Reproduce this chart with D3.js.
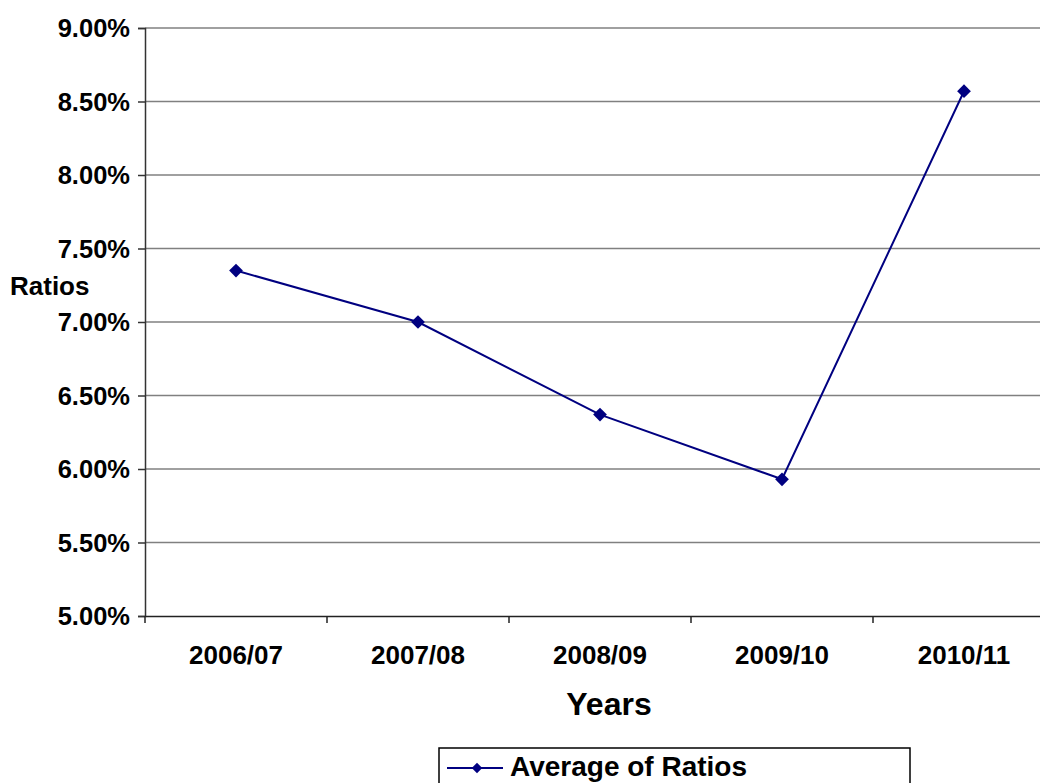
<!DOCTYPE html>
<html>
<head>
<meta charset="utf-8">
<script src="https://cdn.jsdelivr.net/npm/d3@7"></script>
<style>
  html, body { margin: 0; padding: 0; background: #fff; overflow: hidden; }
  svg text { font-family: "Liberation Sans", Arial, sans-serif; font-weight: bold; fill: #000; }
</style>
</head>
<body>
<svg id="chart" width="1040" height="783"></svg>
<script>
// Average ratio per financial year
const years = ["2006/07", "2007/08", "2008/09", "2009/10", "2010/11"];
const ratios = [0.0735, 0.0700, 0.0637, 0.0593, 0.0857];
const yTicks = [0.05, 0.055, 0.06, 0.065, 0.07, 0.075, 0.08, 0.085, 0.09];
const seriesName = "Average of Ratios";

const svg = d3.select("#chart");
const plot = { left: 145, right: 1055, top: 28, bottom: 616 };
const lineColor = "#000080";

const x = d3.scaleBand().domain(years).range([plot.left, plot.right]);
const y = d3.scaleLinear().domain([0.05, 0.09]).range([plot.bottom, plot.top]);

// Horizontal gridlines
svg.append("g")
  .selectAll("line")
  .data(yTicks.slice(1))
  .join("line")
  .attr("x1", plot.left).attr("x2", plot.right)
  .attr("y1", d => y(d)).attr("y2", d => y(d))
  .attr("stroke", "#808080").attr("stroke-width", 1.5);

// Value axis
const yAxis = svg.append("g")
  .attr("transform", `translate(${plot.left},0)`)
  .call(d3.axisLeft(y).tickValues(yTicks).tickFormat(d3.format(".2%")).tickSize(7).tickPadding(8));
yAxis.attr("font-family", null).attr("font-size", null);
yAxis.select(".domain").attr("stroke", "#333").attr("stroke-width", 1.5);
yAxis.selectAll(".tick line").attr("stroke", "#333").attr("stroke-width", 1.5);
yAxis.selectAll(".tick text").style("font-size", "25.5px").attr("dy", "0.35em");

// Category axis
const xAxis = svg.append("g")
  .attr("transform", `translate(0,${plot.bottom})`)
  .call(d3.axisBottom(x).tickSize(0).tickPadding(30));
xAxis.attr("font-family", null).attr("font-size", null);
xAxis.select(".domain").attr("stroke", "#222").attr("stroke-width", 1.5);
xAxis.selectAll(".tick text").style("font-size", "26px");
// Tick marks between categories
svg.append("g")
  .selectAll("line")
  .data(years.map(d => x(d)).concat([plot.right]))
  .join("line")
  .attr("x1", d => d).attr("x2", d => d)
  .attr("y1", plot.bottom).attr("y2", plot.bottom + 7)
  .attr("stroke", "#222").attr("stroke-width", 1.5);

// Series line
const pts = years.map((d, i) => [x(d) + x.bandwidth() / 2, y(ratios[i])]);
svg.append("path")
  .datum(pts)
  .attr("d", d3.line())
  .attr("fill", "none")
  .attr("stroke", lineColor)
  .attr("stroke-width", 2);

const diamond = d3.symbol().type(d3.symbolDiamond2).size(120);
svg.append("g")
  .selectAll("path")
  .data(pts)
  .join("path")
  .attr("transform", d => `translate(${d[0]},${d[1]})`)
  .attr("d", diamond)
  .attr("fill", lineColor);

// Axis titles
svg.append("text")
  .attr("x", 10).attr("y", 286)
  .attr("dy", "0.35em")
  .style("font-size", "26px")
  .text("Ratios");

svg.append("text")
  .attr("x", 609).attr("y", 715)
  .attr("text-anchor", "middle")
  .style("font-size", "32px")
  .text("Years");

// Legend
const legend = svg.append("g").attr("transform", "translate(439,748)");
legend.append("rect")
  .attr("x", 0).attr("y", 0)
  .attr("width", 471).attr("height", 60)
  .attr("fill", "#fff").attr("stroke", "#000").attr("stroke-width", 1.5);
legend.append("line")
  .attr("x1", 8).attr("x2", 64).attr("y1", 20).attr("y2", 20)
  .attr("stroke", lineColor).attr("stroke-width", 2);
legend.append("path")
  .attr("transform", "translate(38,20)")
  .attr("d", d3.symbol().type(d3.symbolDiamond2).size(70))
  .attr("fill", lineColor);
legend.append("text")
  .attr("x", 71).attr("y", 18)
  .attr("dy", "0.35em")
  .style("font-size", "28px")
  .text(seriesName);
</script>
</body>
</html>
